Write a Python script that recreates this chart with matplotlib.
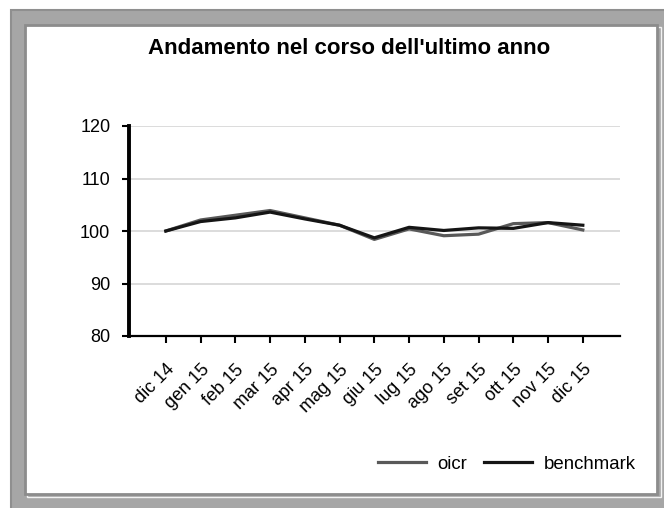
import matplotlib
matplotlib.use("Agg")
import matplotlib.pyplot as plt
import matplotlib.transforms as mtransforms
from matplotlib.patches import Rectangle

plt.rcParams['font.family'] = ['Liberation Sans', 'DejaVu Sans']

months = ["dic 14", "gen 15", "feb 15", "mar 15", "apr 15", "mag 15", "giu 15",
          "lug 15", "ago 15", "set 15", "ott 15", "nov 15", "dic 15"]
oicr = [100.0, 102.1, 103.0, 103.9, 102.5, 101.1, 98.4, 100.4, 99.1, 99.4, 101.4, 101.6, 100.2]
benchmark = [100.0, 101.8, 102.5, 103.6, 102.3, 101.1, 98.7, 100.7, 100.1, 100.6, 100.5, 101.6, 101.1]
y_ticks = [80, 90, 100, 110, 120]

W, H = 664, 508
fig = plt.figure(figsize=(W / 100, H / 100), dpi=100)
fig.patch.set_facecolor("white")

def px_rect(x0, y0, x1, y1, **kw):
    # rectangle given in image pixel coords (origin top-left)
    return Rectangle((x0 / W, 1 - y1 / H), (x1 - x0) / W, (y1 - y0) / H,
                     transform=fig.transFigure, zorder=-10, **kw)

# outer grey frame and inner white panel
fig.patches.append(px_rect(11, 10, 668, 512, facecolor="#a6a6a6", edgecolor="#8f8f8f", linewidth=1.5))
fig.patches.append(px_rect(27, 27, 661, 497, facecolor="none", edgecolor="#f2f2f2", linewidth=1.0))
fig.patches.append(px_rect(25, 25, 657, 494, facecolor="white", edgecolor="#8c8c8c", linewidth=2.0))

ax = fig.add_axes([129 / W, 1 - 336 / H, (620 - 129) / W, (336 - 126) / H])
ax.set_facecolor("none")

x = list(range(len(months)))
ax.plot(x, oicr, color="#595959", linewidth=2.3, label="oicr", zorder=3)
ax.plot(x, benchmark, color="#151515", linewidth=2.3, label="benchmark", zorder=4)

ax.set_xlim(-1.06, 13.07)
ax.set_ylim(80, 120)
ax.set_yticks(y_ticks)
ax.set_yticklabels([str(v) for v in y_ticks], fontsize=13)
ax.set_xticks(x)
ax.set_xticklabels(months, fontsize=13, rotation=45, ha="right", rotation_mode="anchor")

# shift rotated labels a little to the right, like the original
shift = mtransforms.ScaledTranslation(14 / 100, 0, fig.dpi_scale_trans)
for lbl in ax.get_xticklabels():
    lbl.set_transform(lbl.get_transform() + shift)

ax.grid(axis="y", color="#d9d9d9", linewidth=1.3, zorder=0)
for s in ["top", "right"]:
    ax.spines[s].set_visible(False)
ax.spines["left"].set_linewidth(2.8)
ax.spines["bottom"].set_linewidth(1.6)
ax.spines["left"].set_zorder(5)
ax.tick_params(axis="y", direction="out", length=5, width=1.5, pad=8.5)
ax.tick_params(axis="x", direction="out", length=5, width=1.5, pad=13)

fig.text(349 / W, 1 - 54 / H, "Andamento nel corso dell'ultimo anno",
         ha="center", va="baseline", fontsize=16, fontweight="bold")

fig.legend(loc="center", bbox_to_anchor=(507 / W, 1 - 464 / H), ncol=2, frameon=False,
           fontsize=13.4, handlelength=2.58, columnspacing=0.9, handletextpad=0.62,
           borderpad=0, borderaxespad=0)

fig.savefig("out.png", dpi=100)
